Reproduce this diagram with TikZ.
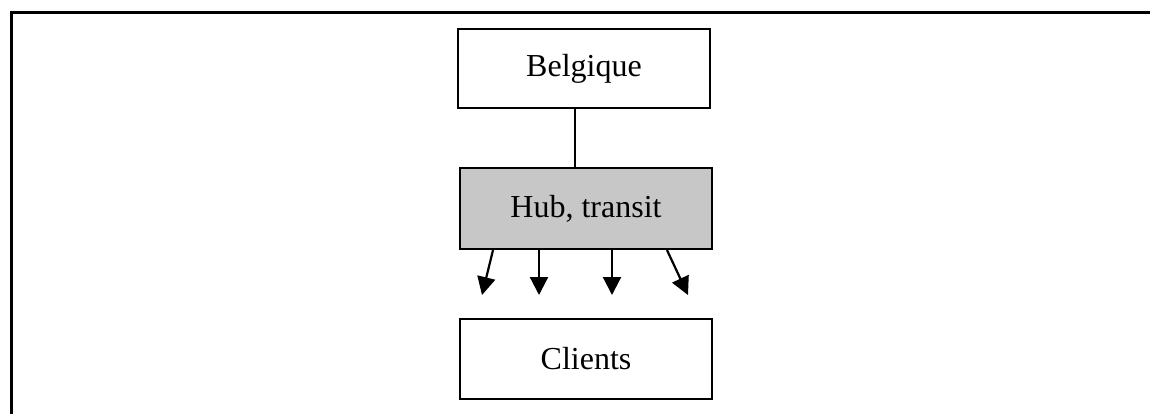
\documentclass[tikz,border=0pt]{standalone}
\usepackage{fontspec}
\setmainfont{Liberation Serif}
\usetikzlibrary{arrows.meta}
\tikzset{
	boite/.style={draw=black,line width=1.1pt,minimum width=126pt,inner sep=0pt,font=\fontsize{16}{18}\selectfont},
	fleche/.style={line width=1.1pt,-{Triangle[length=9pt,width=9pt]}}
}
\begin{document}
\begin{tikzpicture}[x=0.5pt,y=-0.5pt]
		\useasboundingbox (0,0) rectangle (1150,414);
		\fill[white](0,0) rectangle (1150,414);
		
		\draw[line width=1.5pt](11,414)--(11,12)--(1150,12);
		
		\node[boite,minimum height=39.5pt] (belgique) at (584,68.5){Belgique};
		\node[boite,minimum height=40.5pt,fill=black!22] (hub) at (586,208.5){Hub, transit};
		\node[boite,minimum height=40pt] (clients) at (586,359){Clients};
		
		\draw[line width=1.1pt](belgique.south -| 575,0)--(hub.north -| 575,0);
		
		\coordinate (c1) at (482,295);
		\coordinate (c2) at (539,295);
		\coordinate (c3) at (612,295);
		\coordinate (c4) at (688,295);
		\draw[fleche](hub.south -| 493,0)--(c1);
		\draw[fleche](hub.south -| c2)--(c2);
		\draw[fleche](hub.south -| c3)--(c3);
		\draw[fleche](hub.south -| 667,0)--(c4);
		\end{tikzpicture}
\end{document}
